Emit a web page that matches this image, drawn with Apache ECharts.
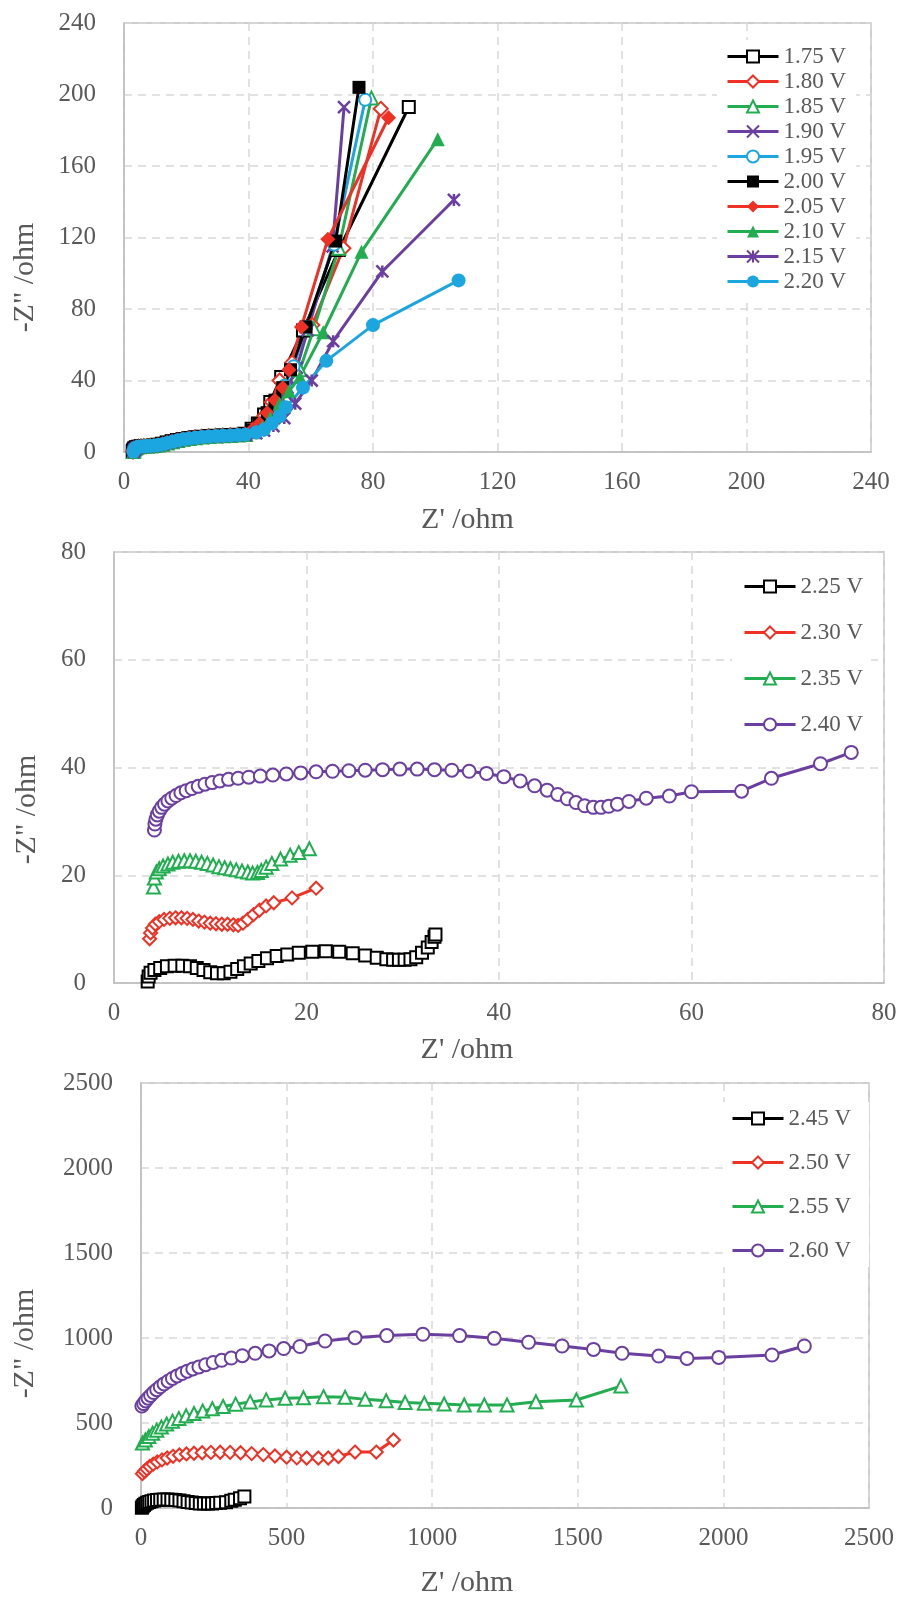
<!DOCTYPE html>
<html><head><meta charset="utf-8">
<script src="https://cdn.jsdelivr.net/npm/echarts@6.0.0/dist/echarts.min.js"></script>
<style>html,body{margin:0;padding:0;background:#fff}#c{width:900px;height:1597px}</style>
</head><body><div id="c"></div>
<script>
// ---------- axis ticks ----------
const ticks1 = [0, 40, 80, 120, 160, 200, 240];
const ticks2 = [0, 20, 40, 60, 80];
const ticks3 = [0, 500, 1000, 1500, 2000, 2500];
const xTitle = "Z' /ohm";
const yTitle = '-Z" /ohm';

// ---------- panel 1 ----------
const names1 = ['1.75 V','1.80 V','1.85 V','1.90 V','1.95 V','2.00 V','2.05 V','2.10 V','2.15 V','2.20 V'];
const v175 = [[2.8,0.4],[3.0,1.3],[3.3,2.1],[3.8,2.7],[4.5,3.0],[5.3,3.2],[6.2,3.3],[7.2,3.4],[8.3,3.5],[9.5,3.7],[10.8,4.1],[12.2,4.6],[13.7,5.3],[15.3,6.0],[17.0,6.7],[18.8,7.3],[20.7,7.8],[22.7,8.2],[24.8,8.6],[27.0,8.9],[29.3,9.1],[31.6,9.3],[34.0,9.5],[36.4,9.7],[38.8,10.2],[41,13],[43,16],[45,21],[47,28],[50.5,42],[57.5,68],[69,113],[91.5,193]];
const v180 = [[2.9,0.3],[3.1,1.2],[3.4,2.0],[3.9,2.6],[4.6,2.9],[5.4,3.1],[6.3,3.2],[7.3,3.3],[8.4,3.4],[9.6,3.6],[10.9,4.0],[12.3,4.5],[13.8,5.2],[15.4,5.9],[17.1,6.6],[18.9,7.2],[20.8,7.7],[22.8,8.1],[24.9,8.5],[27.1,8.8],[29.4,9.0],[31.7,9.2],[34.1,9.4],[36.5,9.6],[38.9,10.0],[41,12],[43,15],[45,20],[47.5,28],[50,40],[54,50],[60.5,71],[70.5,114],[82.5,192]];
const v185 = [[3.0,0.3],[3.2,1.1],[3.5,1.9],[4.0,2.5],[4.7,2.9],[5.5,3.1],[6.4,3.2],[7.4,3.3],[8.5,3.4],[9.7,3.6],[11.0,3.9],[12.4,4.4],[13.9,5.1],[15.5,5.8],[17.2,6.5],[19.0,7.1],[20.9,7.6],[22.9,8.0],[25.0,8.4],[27.2,8.7],[29.5,8.9],[31.8,9.1],[34.2,9.3],[36.6,9.5],[39.0,9.8],[41.5,11.5],[44,15],[46,20],[48.5,27],[52,37],[56.5,46],[61,69],[69,114],[79.5,198]];
const v190 = [[3.0,0.2],[3.2,1.0],[3.5,1.8],[4.0,2.4],[4.7,2.8],[5.5,3.0],[6.4,3.1],[7.4,3.2],[8.5,3.3],[9.7,3.5],[11.0,3.8],[12.4,4.3],[13.9,5.0],[15.5,5.7],[17.2,6.4],[19.0,7.0],[20.9,7.5],[22.9,7.9],[25.0,8.3],[27.2,8.6],[29.5,8.8],[31.8,9.0],[34.2,9.2],[36.6,9.4],[39.0,9.7],[42,11],[44.5,14],[47,19],[49.5,26],[52.5,36],[55.5,47],[59,68],[67,115],[70.7,193]];
const v195 = [[2.9,0.3],[3.1,1.2],[3.4,2.0],[3.9,2.6],[4.6,3.0],[5.4,3.2],[6.3,3.3],[7.3,3.4],[8.4,3.5],[9.6,3.7],[10.9,4.0],[12.3,4.5],[13.8,5.2],[15.4,5.9],[17.1,6.6],[18.9,7.2],[20.8,7.7],[22.8,8.1],[24.9,8.5],[27.1,8.8],[29.4,9.0],[31.7,9.2],[34.1,9.4],[36.5,9.6],[38.9,10.0],[41.5,11.5],[44,15],[46.5,21],[49,28],[51.5,37],[54.5,48],[58.5,70],[67.5,116],[77.5,197]];
const v200 = [[2.8,0.4],[3.0,1.3],[3.3,2.1],[3.8,2.7],[4.5,3.1],[5.3,3.3],[6.2,3.4],[7.2,3.5],[8.3,3.6],[9.5,3.8],[10.8,4.2],[12.2,4.7],[13.7,5.4],[15.3,6.1],[17.0,6.8],[18.8,7.4],[20.7,7.9],[22.7,8.3],[24.8,8.7],[27.0,9.0],[29.3,9.2],[31.6,9.4],[34.0,9.6],[36.4,9.8],[38.8,10.3],[41,12],[43.5,16],[46,22],[48.5,29],[51,36],[53.5,46],[58.5,70],[68,118],[75.5,204]];
const v205 = [[2.9,0.4],[3.1,1.3],[3.4,2.1],[3.9,2.7],[4.6,3.0],[5.4,3.2],[6.3,3.3],[7.3,3.4],[8.4,3.5],[9.6,3.7],[10.9,4.1],[12.3,4.6],[13.8,5.3],[15.4,6.0],[17.1,6.7],[18.9,7.3],[20.8,7.8],[22.8,8.2],[24.9,8.6],[27.1,8.9],[29.4,9.1],[31.7,9.3],[34.1,9.5],[36.5,9.7],[38.9,10.1],[41,12],[43.5,16],[46,22],[48.5,29],[51,36],[53,46],[57,70],[65.5,119],[85,187]];
const v210 = [[3.0,0.3],[3.2,1.1],[3.5,1.9],[4.0,2.5],[4.7,2.9],[5.5,3.1],[6.4,3.2],[7.4,3.3],[8.5,3.4],[9.7,3.6],[11.0,3.9],[12.4,4.4],[13.9,5.1],[15.5,5.8],[17.2,6.5],[19.0,7.1],[20.9,7.6],[22.9,8.0],[25.0,8.4],[27.2,8.7],[29.5,8.9],[31.8,9.1],[34.2,9.3],[36.6,9.5],[39.0,9.8],[42,11],[44.5,14],[47,19],[50,27],[53,34],[56.5,42],[64,67],[76.3,112],[100.8,175]];
const v215 = [[3.1,0.2],[3.3,1.0],[3.6,1.8],[4.1,2.4],[4.8,2.8],[5.6,3.0],[6.5,3.1],[7.5,3.2],[8.6,3.3],[9.8,3.5],[11.1,3.8],[12.5,4.3],[14.0,5.0],[15.6,5.7],[17.3,6.4],[19.1,7.0],[21.0,7.5],[23.0,7.9],[25.1,8.3],[27.3,8.6],[29.6,8.8],[31.9,9.0],[34.3,9.2],[36.7,9.4],[39.1,9.6],[42.5,10.5],[45,12],[48,14.5],[51.5,19],[55,27],[60.3,40],[67.2,62],[83,101],[106,141]];
const v220 = [[3.0,0.3],[3.2,1.1],[3.5,1.9],[4.0,2.5],[4.7,2.9],[5.5,3.1],[6.4,3.2],[7.4,3.3],[8.5,3.4],[9.7,3.6],[11.0,3.9],[12.4,4.4],[13.9,5.1],[15.5,5.8],[17.2,6.5],[19.0,7.1],[20.9,7.6],[22.9,8.0],[25.0,8.4],[27.2,8.7],[29.5,8.9],[31.8,9.1],[34.2,9.3],[36.6,9.5],[39.0,9.8],[42.5,11],[45,12.5],[47.5,16],[50,20],[52,25],[57.5,36],[65,51],[80,71],[107.5,96]];

// ---------- panel 2 ----------
const names2 = ['2.25 V','2.30 V','2.35 V','2.40 V'];
const v225 = [[3.5,0.3],[3.6,1.2],[3.8,1.9],[4.2,2.4],[4.8,2.8],[5.5,3.1],[6.3,3.2],[7.1,3.2],[7.9,3.1],[8.6,2.8],[9.3,2.4],[10.0,2.0],[10.7,1.8],[11.4,1.8],[12.1,2.1],[12.8,2.6],[13.5,3.1],[14.2,3.6],[15.0,4.1],[15.9,4.6],[16.9,5.0],[18.0,5.3],[19.2,5.6],[20.6,5.8],[22.0,5.9],[23.4,5.8],[24.8,5.5],[26.1,5.1],[27.3,4.7],[28.3,4.4],[29.0,4.3],[29.6,4.3],[30.2,4.3],[30.8,4.4],[31.4,4.8],[32.0,5.6],[32.6,6.6],[33.0,7.6],[33.3,8.6],[33.4,9.0]];
const v230 = [[3.7,8.2],[3.8,9.3],[4.0,10.2],[4.3,10.9],[4.7,11.4],[5.2,11.8],[5.8,12.0],[6.4,12.1],[7.0,12.1],[7.6,12.0],[8.2,11.8],[8.8,11.5],[9.4,11.3],[10.0,11.1],[10.6,11.0],[11.2,10.9],[11.8,10.9],[12.4,10.8],[12.9,10.7],[13.4,11.1],[13.9,11.8],[14.5,12.7],[15.1,13.5],[15.8,14.3],[16.6,14.9],[18.5,15.8],[21.0,17.6]];
const v235 = [[4.1,17.8],[4.2,19.5],[4.4,20.6],[4.7,21.2],[5.1,21.7],[5.6,22.1],[6.1,22.4],[6.7,22.6],[7.3,22.7],[7.9,22.7],[8.5,22.6],[9.1,22.4],[9.7,22.2],[10.3,21.9],[10.9,21.6],[11.5,21.4],[12.1,21.2],[12.7,21.0],[13.3,20.8],[13.9,20.6],[14.4,20.4],[14.9,20.5],[15.3,20.9],[15.8,21.5],[16.4,22.2],[17.3,23.0],[18.3,23.7],[19.2,24.2],[20.3,24.9]];
const v240 = [[4.2,28.4],[4.25,29.5],[4.35,30.4],[4.5,31.2],[4.7,31.9],[4.95,32.6],[5.25,33.2],[5.6,33.8],[6.0,34.3],[6.45,34.8],[6.95,35.3],[7.5,35.7],[8.1,36.1],[8.75,36.5],[9.45,36.9],[10.2,37.2],[11.0,37.5],[11.9,37.8],[12.9,38.0],[14.0,38.2],[15.2,38.4],[16.5,38.6],[17.9,38.8],[19.4,39.0],[21.0,39.2],[22.7,39.3],[24.4,39.4],[26.1,39.5],[27.9,39.6],[29.7,39.7],[31.5,39.7],[33.3,39.6],[35.1,39.5],[36.9,39.3],[38.7,38.9],[40.5,38.3],[42.2,37.5],[43.7,36.6],[45.0,35.8],[46.1,35.0],[47.1,34.2],[48.0,33.5],[48.9,32.9],[49.8,32.6],[50.6,32.6],[51.4,32.8],[52.3,33.2],[53.5,33.7],[55.3,34.3],[57.7,34.7],[60.0,35.5],[65.2,35.6],[68.3,38.0],[73.4,40.7],[76.6,42.8]];

// ---------- panel 3 ----------
const names3 = ['2.45 V','2.50 V','2.55 V','2.60 V'];
const v245 = [[3,2],[6,10],[10,18],[15,25],[21,31],[28,36],[36,40],[45,44],[55,47],[66,49],[78,50],[91,50],[104,49],[118,47],[132,44],[146,40],[160,36],[174,32],[188,29],[202,27],[216,26],[230,26],[244,27],[258,29],[272,31],[292,34],[310,42],[322,48],[340,57],[355,68]];
const v250 = [[5,202],[12,216],[20,230],[30,244],[42,258],[56,271],[72,283],[90,294],[110,304],[132,312],[156,318],[182,322],[210,325],[240,327],[272,328],[306,327],[342,325],[380,320],[420,314],[460,306],[500,299],[535,295],[569,294],[609,294],[643,294],[678,303],[735,329],[808,329],[867,400]];
const v255 = [[5,382],[15,400],[27,420],[40,440],[54,458],[70,476],[88,494],[108,511],[130,527],[155,542],[182,556],[212,570],[245,584],[282,597],[325,611],[375,624],[430,636],[495,645],[558,648],[627,655],[701,651],[770,639],[842,631],[907,620],[973,616],[1041,612],[1110,606],[1179,606],[1257,606],[1356,625],[1495,635],[1648,717]];
const v260 = [[3,600],[9,614],[16,630],[24,646],[33,662],[43,679],[54,696],[66,713],[79,730],[93,746],[108,762],[124,777],[141,791],[159,805],[178,818],[199,830],[222,843],[248,856],[277,869],[310,882],[348,896],[392,910],[440,924],[490,938],[546,950],[632,982],[735,1002],[844,1014],[968,1022],[1094,1014],[1213,998],[1331,975],[1446,953],[1554,933],[1652,910],[1778,894],[1875,880],[1984,886],[2167,900],[2278,953]];

// ---------- styling ----------
const F = "'Liberation Serif','DejaVu Serif',serif";
const TXT = '#595959';
const C = {k:'#000000', r:'#ee3124', g:'#22ad50', p:'#6b3fa0', b:'#1ca6e0'};
const CROSS = 'path://M0,0L12,12M12,0L0,12';
const STAR = 'path://M0,0L12,12M12,0L0,12M6,0L6,12';

function ser(name, data, idx, color, symbol, size) {
  const empty = symbol.indexOf('empty') === 0;
  const path = symbol.indexOf('path') === 0;
  return {
    type: 'line', name, data, xAxisIndex: idx, yAxisIndex: idx,
    symbol, symbolSize: size, showSymbol: true,
    lineStyle: {color, width: 3},
    itemStyle: {color, borderColor: color, borderWidth: (empty || path) ? 2.5 : 0},
    emphasis: {disabled: true}, animation: false
  };
}
const plain = v => String(v);
function xAx(idx, t, gap, pad) {
  return {gridIndex: idx, type: 'value', min: t[0], max: t[t.length-1], interval: t[1]-t[0],
    axisLine: {show: true, onZero: false, lineStyle: {color: '#bfbfbf', width: 1.5}},
    axisTick: {show: false},
    axisLabel: {fontSize: 25, fontFamily: F, color: TXT, margin: 18, formatter: plain},
    splitLine: {show: true, lineStyle: {color: '#d9d9d9', width: 1.5, type: [8, 6]}},
    name: xTitle, nameLocation: 'middle', nameGap: gap,
    nameTextStyle: {fontSize: 30, fontFamily: F, color: TXT, padding: [0, pad, 0, 0]}};
}
function yAx(idx, t, gap, pad) {
  return {gridIndex: idx, type: 'value', min: t[0], max: t[t.length-1], interval: t[1]-t[0],
    axisLine: {show: true, onZero: false, lineStyle: {color: '#bfbfbf', width: 1.5}},
    axisTick: {show: false},
    axisLabel: {fontSize: 25, fontFamily: F, color: TXT, margin: 28, formatter: plain},
    splitLine: {show: true, lineStyle: {color: '#d9d9d9', width: 1.5, type: [8, 6]}},
    name: yTitle, nameLocation: 'middle', nameGap: gap,
    nameTextStyle: {fontSize: 30, fontFamily: F, color: TXT, padding: [0, pad, 0, 0]}};
}
function leg(names, left, top, gap, pad) {
  return {data: names, orient: 'vertical', left, top, itemWidth: 51, itemHeight: 15, itemGap: gap,
    padding: pad, backgroundColor: '#ffffff',
    lineStyle: {width: 3},
    selectedMode: false, textStyle: {fontSize: 23, fontFamily: F, color: TXT}};
}
const gridBase = {show: true, borderColor: '#bfbfbf', borderWidth: 1.5, containLabel: false, outerBoundsMode: 'none'};

const series = [
  ser(names1[0], v175, 0, C.k, 'emptyRect', 12),
  ser(names1[1], v180, 0, C.r, 'emptyDiamond', 14),
  ser(names1[2], v185, 0, C.g, 'emptyTriangle', 13),
  ser(names1[3], v190, 0, C.p, CROSS, 12),
  ser(names1[4], v195, 0, C.b, 'emptyCircle', 12),
  ser(names1[5], v200, 0, C.k, 'rect', 13),
  ser(names1[6], v205, 0, C.r, 'diamond', 15),
  ser(names1[7], v210, 0, C.g, 'triangle', 14),
  ser(names1[8], v215, 0, C.p, STAR, 12),
  ser(names1[9], v220, 0, C.b, 'circle', 14),
  ser(names2[0], v225, 1, C.k, 'emptyRect', 12),
  ser(names2[1], v230, 1, C.r, 'emptyDiamond', 13),
  ser(names2[2], v235, 1, C.g, 'emptyTriangle', 13),
  ser(names2[3], v240, 1, C.p, 'emptyCircle', 13),
  ser(names3[0], v245, 2, C.k, 'emptyRect', 12),
  ser(names3[1], v250, 2, C.r, 'emptyDiamond', 13),
  ser(names3[2], v255, 2, C.g, 'emptyTriangle', 13),
  ser(names3[3], v260, 2, C.p, 'emptyCircle', 13)
];

const option = {
  animation: false,
  backgroundColor: '#ffffff',
  grid: [
    Object.assign({left: 124, top: 23, width: 747, height: 429}, gridBase),
    Object.assign({left: 114, top: 552, width: 770, height: 431}, gridBase),
    Object.assign({left: 141, top: 1083, width: 728, height: 425}, gridBase)
  ],
  xAxis: [xAx(0, ticks1, 53, 60), xAx(1, ticks2, 52, 64), xAx(2, ticks3, 60, 76)],
  yAxis: [yAx(0, ticks1, 84, 80), yAx(1, ticks2, 72, 84), yAx(2, ticks3, 101, 96)],
  legend: [
    leg(names1, 717, 40, 2, [5, 10, 5, 9]),
    leg(names2, 732, 570, 23, [5, 8, 5, 11]),
    leg(names3, 723, 1102, 21, [5, 18, 5, 8])
  ],
  series
};
const chart = echarts.init(document.getElementById('c'), null, {renderer: 'canvas', width: 900, height: 1597});
chart.setOption(option);
</script>
</body></html>
